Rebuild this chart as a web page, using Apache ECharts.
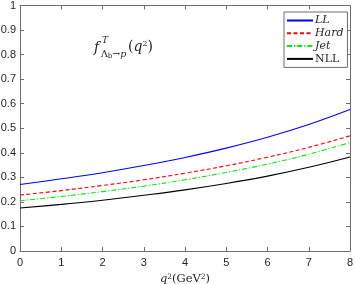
<!DOCTYPE html>
<html>
<head>
<meta charset="utf-8">
<script src="https://cdn.jsdelivr.net/npm/echarts@6/dist/echarts.min.js"></script>
<style>html,body{margin:0;padding:0;background:#fff}#c{width:355px;height:284px}</style>
</head>
<body>
<div id="c"></div>
<script>
const q2 = [0, 1, 2, 3, 4, 5, 6, 7, 8];
const LL   = [0.271, 0.294, 0.319, 0.348, 0.381, 0.419, 0.463, 0.515, 0.576];
const Hard = [0.228, 0.246, 0.267, 0.290, 0.317, 0.347, 0.382, 0.422, 0.469];
const Jet  = [0.205, 0.222, 0.242, 0.264, 0.290, 0.320, 0.354, 0.394, 0.442];
const NLL  = [0.175, 0.190, 0.207, 0.227, 0.249, 0.275, 0.305, 0.341, 0.383];
const yTicks = [0, 0.1, 0.2, 0.3, 0.4, 0.5, 0.6, 0.7, 0.8, 0.9, 1];
const xTicks = [0, 1, 2, 3, 4, 5, 6, 7, 8];

const pair = (arr) => q2.map((x, i) => [x, arr[i]]);
const axisCol = '#6e6e6e';
const labCol = '#262626';
const serif = "'DejaVu Serif','Liberation Serif',serif";
const sans = "'Liberation Sans',Arial,sans-serif";

const chart = echarts.init(document.getElementById('c'), null, {renderer: 'canvas'});
const commonX = {
  type: 'value', min: 0, max: 8, interval: 1,
  axisLine: {show: true, onZero: false, lineStyle: {color: axisCol, width: 1}},
  axisTick: {show: true, inside: true, length: 4, lineStyle: {color: axisCol}},
  splitLine: {show: false}
};
const commonY = {
  type: 'value', min: 0, max: 1, interval: 0.1,
  axisLine: {show: true, onZero: false, lineStyle: {color: axisCol, width: 1}},
  axisTick: {show: true, inside: true, length: 4, lineStyle: {color: axisCol}},
  splitLine: {show: false}
};
const mk = (name, data, color, type) => ({
  name, type: 'line', data: pair(data), smooth: 0.4, symbol: 'none',
  lineStyle: {color, width: 1.1, type}, itemStyle: {color}, z: 3
});
chart.setOption({
  animation: false,
  grid: {left: 20, right: 5, top: 5.5, bottom: 33, containLabel: false, outerBoundsMode: 'none'},
  xAxis: [
    Object.assign({}, commonX, {
      position: 'bottom',
      axisLabel: {color: labCol, fontSize: 11, fontFamily: sans, margin: 6,
        formatter: v => xTicks.includes(v) ? String(v) : ''},
      name: '{i|q}{s|2}{n|(GeV}{s|2}{n|)}', nameLocation: 'middle', nameGap: 16,
      nameTextStyle: {rich: {
        i: {fontFamily: serif, fontStyle: 'italic', fontSize: 11.5, color: labCol},
        s: {fontFamily: serif, fontSize: 7.5, color: labCol, verticalAlign: 'top', padding: [0,0,5,0]},
        n: {fontFamily: serif, fontSize: 11.5, color: labCol}
      }}
    }),
    Object.assign({}, commonX, {position: 'top', axisLabel: {show: false}})
  ],
  yAxis: [
    Object.assign({}, commonY, {
      position: 'left',
      axisLabel: {color: labCol, fontSize: 11, fontFamily: sans, margin: 4,
        formatter: v => { const t = yTicks.find(y => Math.abs(y - v) < 1e-9); return t === undefined ? '' : String(t); }}
    }),
    Object.assign({}, commonY, {position: 'right', axisLabel: {show: false}})
  ],
  legend: {
    orient: 'vertical', left: 284, top: 12, width: 65,
    backgroundColor: '#fff', borderColor: axisCol, borderWidth: 1,
    padding: [3, 4, 3, 2], itemGap: 1.8, itemWidth: 26, itemHeight: 12,
    itemStyle: {opacity: 0},
    data: ['LL', 'Hard', 'Jet', 'NLL'],
    formatter: n => n === 'NLL' ? '{n|NLL}' : '{i|' + n + '}',
    textStyle: {padding: [0,0,0,-3], rich: {
      i: {fontFamily: serif, fontStyle: 'italic', fontSize: 11, color: labCol},
      n: {fontFamily: serif, fontSize: 11, color: labCol}
    }}
  },
  series: [
    mk('LL', LL, '#0000ff', 'solid'),
    mk('Hard', Hard, '#ff0000', [4, 2.5]),
    mk('Jet', Jet, '#00ee00', [5, 2, 1.2, 2]),
    mk('NLL', NLL, '#000000', 'solid')
  ],
  graphic: [
    {type: 'text', left: 94, top: 41, style: {text: 'f', font: "italic 14px " + serif, fill: labCol}},
    {type: 'text', left: 102, top: 36, style: {text: 'T', font: "italic 9px " + serif, fill: labCol}},
    {type: 'text', left: 101, top: 50, style: {text: '{a|Λ}{b|b}{a|→}{c|p}', fill: labCol,
      rich: {a: {fontFamily: serif, fontSize: 9.5, fill: labCol}, b: {fontFamily: serif, fontSize: 7, fill: labCol, verticalAlign: 'bottom', padding:[3,0,0,0]}, c: {fontFamily: serif, fontStyle: 'italic', fontSize: 9.5, fill: labCol}}}},
    {type: 'text', left: 128, top: 40, style: {text: '{n|(}{i|q}{s|2}{n|)}', fill: labCol,
      rich: {n: {fontFamily: serif, fontSize: 14, fill: labCol}, i: {fontFamily: serif, fontStyle: 'italic', fontSize: 14, fill: labCol}, s: {fontFamily: serif, fontSize: 8, fill: labCol, verticalAlign: 'top', padding:[0,0,6,0]}}}}
  ]
});
</script>
</body>
</html>
